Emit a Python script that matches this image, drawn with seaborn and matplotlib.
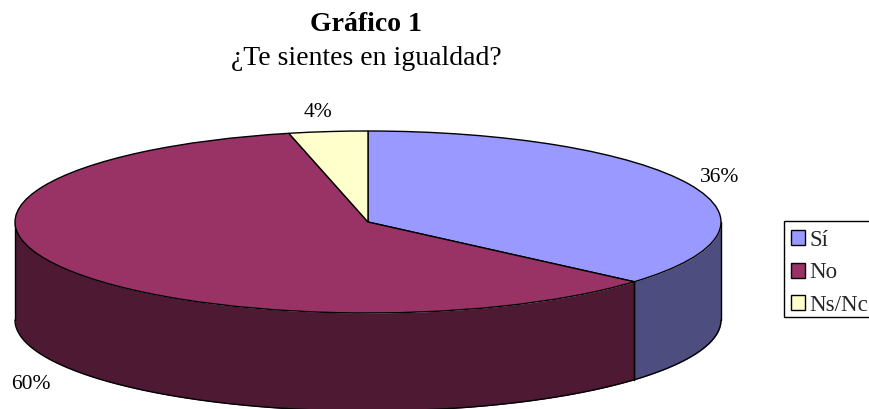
import numpy as np
import seaborn as sns
import matplotlib.pyplot as plt
from matplotlib.patches import Rectangle

categories = ['Sí', 'No', 'Ns/Nc']
values = [36.4, 60.0, 3.6]
pct_labels = ['36%', '60%', '4%']

top_colors = ['#9999FF', '#993366', '#FFFFCC']
side_colors = ['#4D4D80', '#4D1933', '#808066']

sns.set_theme(style='white')
plt.rcParams['font.family'] = ['Liberation Serif', 'DejaVu Serif']

W, H = 870, 409
# pie geometry in pixels
cx, cy, rx, ry, depth = 368, 222, 353, 91, 98

fig = plt.figure(figsize=(W / 100, H / 100), dpi=100, facecolor='white')
ax = fig.add_axes([0, 0, 1, 1])

wedges, _ = ax.pie(values, colors=sns.color_palette(top_colors), startangle=90,
                   counterclock=False, radius=1,
                   wedgeprops=dict(edgecolor='black', linewidth=1, zorder=3))
ax.set_aspect('auto')
ax.set_xlim(-cx / rx, (W - cx) / rx)
ax.set_ylim((cy - H) / ry, cy / ry)
ax.axis('off')

# side wall, only the front half of the cylinder shows
d = depth / ry
start = 90.0
for val, col in zip(values, side_colors):
    end = start - val / sum(values) * 360
    lo, hi = max(end, -180), min(start, 0)
    if lo < hi:
        t = np.radians(np.linspace(lo, hi, 200))
        x, y = np.cos(t), np.sin(t)
        ax.fill_between(x, y, y - d, color=col, linewidth=0, zorder=1)
        ax.plot(x, y - d, color='black', lw=1, zorder=2)
        for a in (lo, hi):
            xa, ya = np.cos(np.radians(a)), np.sin(np.radians(a))
            ax.plot([xa, xa], [ya, ya - d], color='black', lw=1, zorder=2)
    start = end

fig.text(366 / W, 1 - 31 / H, 'Gráfico 1', ha='center', va='baseline',
         fontsize=20, fontweight='bold', color='black')
fig.text(366 / W, 1 - 65 / H, '¿Te sientes en igualdad?', ha='center', va='baseline',
         fontsize=20, color='black')

label_pos = [(720, 182), (31, 389), (318, 117)]
for txt, (px, py) in zip(pct_labels, label_pos):
    fig.text(px / W, 1 - py / H, txt, ha='center', va='baseline', fontsize=15.5, color='black')

# legend box drawn apart, the rows sit a bit low in it
fig.add_artist(Rectangle((784 / W, 1 - 317 / H), 90 / W, 96 / H, transform=fig.transFigure,
                         facecolor='white', edgecolor='black', linewidth=1))
leg = fig.legend(wedges, categories, loc='upper left',
                 bbox_to_anchor=(784 / W, 1 - 223 / H), bbox_transform=fig.transFigure,
                 borderaxespad=0, fontsize=16.5, frameon=False,
                 handlelength=0.62, handleheight=0.62,
                 handletextpad=0.2, labelspacing=0.5, borderpad=0.3)
for h in leg.legend_handles:
    h.set_edgecolor('black')
    h.set_linewidth(1)

fig.savefig('out.png', dpi=100)
